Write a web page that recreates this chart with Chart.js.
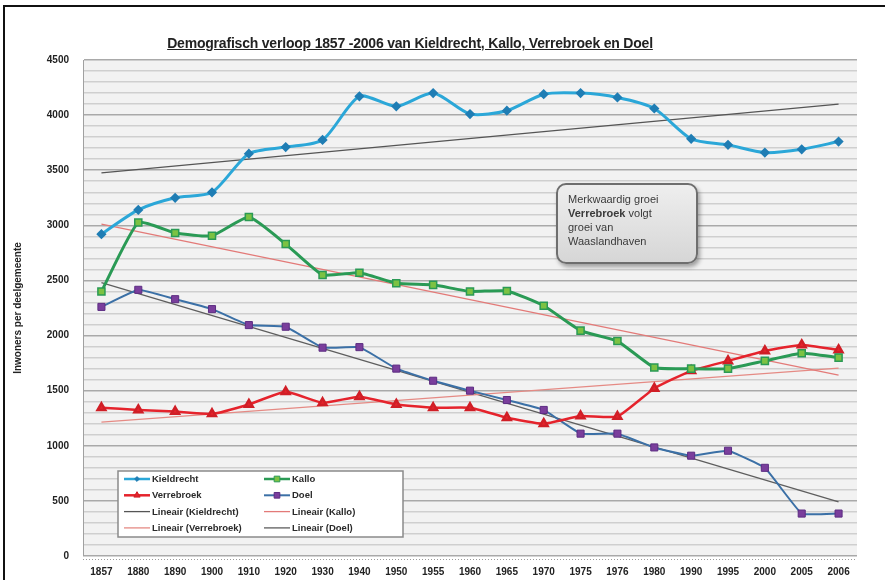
<!DOCTYPE html>
<html>
<head>
<meta charset="utf-8">
<script src="https://cdn.jsdelivr.net/npm/chart.js@4.4.1/dist/chart.umd.min.js"></script>
<style>
  body { margin: 0; background: #fff; }
  #wrap { position: relative; width: 885px; height: 580px; overflow: hidden; }
  #frame { position: absolute; left: 3px; top: 5px; width: 920px; height: 620px;
           border-top: 2px solid #111; border-left: 2px solid #111; }
  #title { position: absolute; left: 0; top: 35px; width: 820px; text-align: center;
           font: bold 14px "Liberation Sans", Arial, sans-serif; color: #222;
           text-decoration: underline; letter-spacing: -0.2px; }
  #note { position: absolute; left: 556px; top: 183px; width: 122px; height: 65px;
          padding: 7px 6px 5px 10px; border: 2px solid #6e6e6e; border-radius: 10px;
          background: linear-gradient(#eeeeee, #d6d6d6);
          box-shadow: 2px 3px 4px rgba(0,0,0,0.35);
          font: 11px "Liberation Sans", Arial, sans-serif; line-height: 14px; color: #3a3a3a; }
  canvas { position: absolute; left: 0; top: 0; }
</style>
</head>
<body>
<div id="wrap">
  <canvas id="demoChart" width="885" height="580"></canvas>
  <div id="frame"></div>
  <div id="title">Demografisch verloop 1857 -2006 van Kieldrecht, Kallo, Verrebroek en Doel</div>
  <div id="note">Merkwaardig groei<br><b>Verrebroek</b> volgt<br>groei van<br>Waaslandhaven</div>
</div>
<script>
var years = ['1857', '1880', '1890', '1900', '1910', '1920', '1930', '1940', '1950', '1955',
             '1960', '1965', '1970', '1975', '1976', '1980', '1990', '1995', '2000', '2005', '2006'];

var kieldrecht = [2920, 3140, 3250, 3300, 3650, 3710, 3775, 4170, 4080, 4200,
                  4010, 4040, 4190, 4200, 4160, 4060, 3785, 3730, 3660, 3690, 3760];
var kallo = [2400, 3025, 2930, 2905, 3075, 2830, 2550, 2570, 2475, 2460,
             2400, 2405, 2270, 2045, 1950, 1710, 1700, 1700, 1770, 1840, 1800];
var verrebroek = [1345, 1325, 1310, 1290, 1375, 1490, 1390, 1445, 1375, 1345,
                  1345, 1255, 1200, 1270, 1265, 1520, 1680, 1770, 1860, 1915, 1870];
var doel = [2260, 2415, 2330, 2240, 2095, 2080, 1890, 1895, 1700, 1590,
            1500, 1415, 1325, 1110, 1110, 985, 910, 955, 800, 385, 385];

var trendKieldrecht = [3475, 4100];
var trendKallo = [3010, 1640];
var trendVerrebroek = [1215, 1705];
var trendDoel = [2480, 490];

var yLabels = [0, 500, 1000, 1500, 2000, 2500, 3000, 3500, 4000, 4500];

function trend(ends) {
    return [{x: years[0], y: ends[0]}, {x: years[years.length - 1], y: ends[1]}];
}

var bgPlugin = {
    id: 'plotBg',
    beforeDraw: function(chart) {
        var a = chart.chartArea, ctx = chart.ctx;
        ctx.save();
        ctx.fillStyle = '#f2f2f2';
        ctx.fillRect(a.left, a.top, a.right - a.left, a.bottom - a.top);
        // dotted x axis line
        ctx.strokeStyle = '#9a9a9a';
        ctx.setLineDash([1, 2]);
        ctx.beginPath();
        ctx.moveTo(a.left, a.bottom + 3.5);
        ctx.lineTo(a.right, a.bottom + 3.5);
        ctx.stroke();
        ctx.restore();
    }
};

var legendPlugin = {
    id: 'boxLegend',
    afterDraw: function(chart) {
        var a = chart.chartArea, ctx = chart.ctx;
        var bx = a.left + 35, by = a.bottom - 85, bw = 285, bh = 66;
        ctx.save();
        ctx.fillStyle = '#ffffff';
        ctx.fillRect(bx, by, bw, bh);
        ctx.strokeStyle = '#8a8a8a';
        ctx.lineWidth = 1.5;
        ctx.strokeRect(bx, by, bw, bh);
        ctx.font = 'bold 9.5px "Liberation Sans Narrow", "Liberation Sans", sans-serif';
        ctx.textBaseline = 'middle';
        chart.data.datasets.forEach(function(ds, i) {
            var col = i % 2, row = Math.floor(i / 2);
            var x = bx + 6 + col * 140, y = by + 8 + row * 16.3;
            ctx.strokeStyle = ds.borderColor;
            ctx.lineWidth = Math.min(ds.borderWidth, 2.5);
            ctx.beginPath();
            ctx.moveTo(x, y);
            ctx.lineTo(x + 26, y);
            ctx.stroke();
            if (ds.pointRadius > 0) {
                ctx.fillStyle = ds.pointBackgroundColor;
                ctx.strokeStyle = ds.pointBorderColor;
                ctx.lineWidth = 1;
                Chart.helpers.drawPoint(ctx, {pointStyle: ds.pointStyle, radius: ds.pointRadius * 0.8,
                                              rotation: 0, borderWidth: 1}, x + 13, y);
            }
            ctx.fillStyle = '#2a2a2a';
            ctx.fillText(ds.label, x + 28, y + 0.5);
        });
        ctx.restore();
    }
};

var ctx = document.getElementById('demoChart').getContext('2d');
new Chart(ctx, {
    type: 'line',
    data: {
        labels: years,
        datasets: [
            {label: 'Kieldrecht', data: kieldrecht, borderColor: '#2ba7d8', borderWidth: 3,
             pointStyle: 'rectRot', pointRadius: 3, pointBackgroundColor: '#1f7db4',
             pointBorderColor: '#1f7db4', tension: 0.25},
            {label: 'Kallo', data: kallo, borderColor: '#2a9a55', borderWidth: 3,
             pointStyle: 'rect', pointRadius: 5, pointBackgroundColor: '#7cc243',
             pointBorderColor: '#2a9a55', pointBorderWidth: 1.5, tension: 0.15},
            {label: 'Verrebroek', data: verrebroek, borderColor: '#e5232c', borderWidth: 2.5,
             pointStyle: 'triangle', pointRadius: 4.5, pointBackgroundColor: '#e5232c',
             pointBorderColor: '#d01e26', tension: 0.15},
            {label: 'Doel', data: doel, borderColor: '#3b70a6', borderWidth: 2,
             pointStyle: 'rect', pointRadius: 5, pointBackgroundColor: '#7a3e9c',
             pointBorderColor: '#5c2c82', pointBorderWidth: 1, tension: 0.1},
            {label: 'Lineair (Kieldrecht)', data: trend(trendKieldrecht), borderColor: '#555555',
             borderWidth: 1.3, pointRadius: 0},
            {label: 'Lineair (Kallo)', data: trend(trendKallo), borderColor: '#e37a78',
             borderWidth: 1.3, pointRadius: 0},
            {label: 'Lineair (Verrebroek)', data: trend(trendVerrebroek), borderColor: '#e58a84',
             borderWidth: 1.3, pointRadius: 0},
            {label: 'Lineair (Doel)', data: trend(trendDoel), borderColor: '#5e5e5e',
             borderWidth: 1.3, pointRadius: 0}
        ]
    },
    options: {
        responsive: false,
        animation: false,
        layout: {padding: {left: 0, right: 28, top: 60, bottom: 0}},
        plugins: {
            legend: {display: false},
            title: {display: false},
            tooltip: {enabled: false}
        },
        scales: {
            x: {
                offset: true,
                grid: {display: false, drawTicks: false},
                border: {display: false},
                ticks: {
                    padding: 10,
                    color: '#222',
                    autoSkip: false,
                    maxRotation: 0,
                    font: {family: '"Liberation Sans Narrow", "Liberation Sans", sans-serif', size: 10, weight: 'bold'}
                },
                afterFit: function(scale) { scale.height = 24; }
            },
            y: {
                min: 0,
                max: 4500,
                grid: {
                    drawTicks: false,
                    color: function(c) {
                        return yLabels.indexOf(c.tick.value) >= 0 ? '#a9a9a9' : '#cfcfcf';
                    },
                    lineWidth: 1.5
                },
                border: {display: true, color: '#a0a0a0', width: 1},
                ticks: {
                    stepSize: 100,
                    padding: 14,
                    color: '#222',
                    autoSkip: false,
                    font: {family: '"Liberation Sans Narrow", "Liberation Sans", sans-serif', size: 10, weight: 'bold'},
                    callback: function(v) { return yLabels.indexOf(v) >= 0 ? String(v) : ''; }
                },
                title: {
                    display: true,
                    text: 'Inwoners per deelgemeente',
                    color: '#222',
                    padding: {top: 12, bottom: 0},
                    font: {family: '"Liberation Sans Narrow", "Liberation Sans", sans-serif', size: 10, weight: 'bold'}
                },
                afterFit: function(scale) { scale.width = 83; }
            }
        }
    },
    plugins: [bgPlugin, legendPlugin]
});
</script>
</body>
</html>
